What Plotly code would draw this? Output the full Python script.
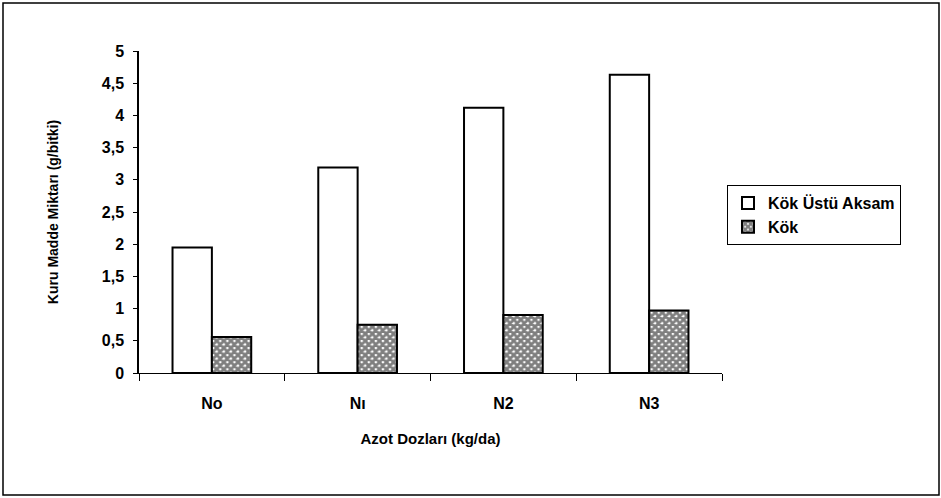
import plotly.graph_objects as go

categories = ["No", "Nı", "N2", "N3"]
kok_ustu = [1.95, 3.19, 4.12, 4.63]
kok = [0.56, 0.75, 0.90, 0.97]
y_ticks = [0, 0.5, 1, 1.5, 2, 2.5, 3, 3.5, 4, 4.5, 5]
y_ticktext = ["0", "0,5", "1", "1,5", "2", "2,5", "3", "3,5", "4", "4,5", "5"]

FONT = "Liberation Sans Narrow, Arial Narrow, Liberation Sans, Arial"

fig = go.Figure()
fig.add_trace(go.Bar(
    x=categories, y=kok_ustu, name="<b>Kök Üstü Aksam</b>",
    marker=dict(color="white", line=dict(color="black", width=2)),
))
fig.add_trace(go.Bar(
    x=categories, y=kok, name="<b>Kök</b>",
    marker=dict(color="white", line=dict(color="black", width=2),
                pattern=dict(shape="x", fgcolor="black", bgcolor="white", size=5, solidity=0.8)),
))

W, H = 941, 498
L, R, T, B = 139, 219, 51, 125
pw, ph = W - L - R, H - T - B

def px(x):
    return (x - L) / pw

def py(y):
    return (H - B - y) / ph

fig.add_shape(type="rect", xref="paper", yref="paper",
              x0=px(3), x1=px(939), y0=py(495), y1=py(3),
              line=dict(color="black", width=1.5), layer="below")

fig.update_layout(
    width=W, height=H,
    margin=dict(l=L, r=R, t=T, b=B),
    paper_bgcolor="white", plot_bgcolor="white",
    barmode="group", bargap=0.46, bargroupgap=0,
    font=dict(family=FONT, color="black", size=14),
    showlegend=True,
    legend=dict(x=px(727), y=py(185), xanchor="left", yanchor="top",
                bordercolor="black", borderwidth=1, bgcolor="white",
                font=dict(family=FONT, size=16, color="black"),
                tracegroupgap=6, itemwidth=30),
    xaxis=dict(
        showline=True, linecolor="black", linewidth=1,
        ticks="outside", ticklen=7, tickcolor="black", tickson="boundaries",
        tickvals=categories, ticktext=["<b>%s</b>" % c for c in categories],
        tickfont=dict(family=FONT, size=16, color="black"),
        ticklabelstandoff=16,
        title=dict(text="<b>Azot Dozları (kg/da)</b>", font=dict(family=FONT, size=15), standoff=22),
        showgrid=False, zeroline=False,
    ),
    yaxis=dict(
        range=[0, 5], tickvals=y_ticks, ticktext=["<b>%s</b>" % t for t in y_ticktext],
        showline=True, linecolor="black", linewidth=1.5,
        ticks="outside", ticklen=4, tickcolor="black",
        tickfont=dict(family=FONT, size=16, color="black"),
        ticklabelstandoff=6,
        title=dict(text="<b>Kuru Madde Miktarı (g/bitki)</b>", font=dict(family=FONT, size=14), standoff=40),
        showgrid=False, zeroline=False,
    ),
)

fig.write_html("out.html")
